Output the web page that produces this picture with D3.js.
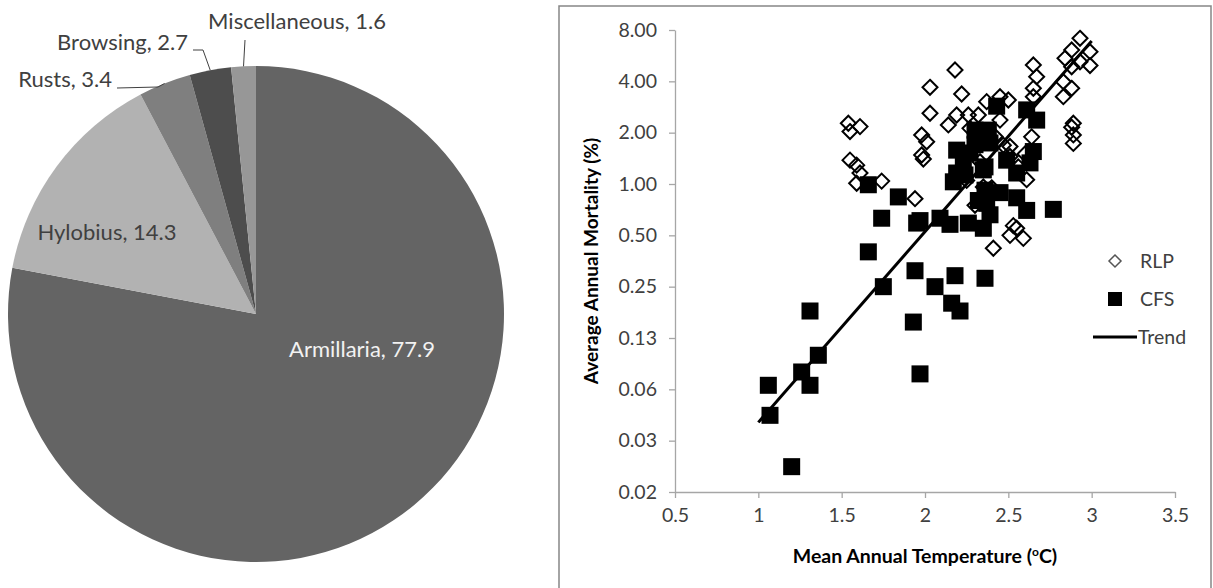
<!DOCTYPE html>
<html>
<head>
<meta charset="utf-8">
<script src="https://cdn.jsdelivr.net/npm/d3@7"></script>
<style>
  body { margin: 0; background: #fff; }
  svg text { font-family: Lato, 'Noto Sans', sans-serif; }
</style>
</head>
<body>
<div id="chart"></div>
<script>
// pie: causes of mortality (%)
const pieCategories = ['Armillaria', 'Hylobius', 'Rusts', 'Browsing', 'Miscellaneous']
const pieValues = [77.9, 14.3, 3.4, 2.7, 1.6]
const pieColors = ['#646464', '#b2b2b2', '#7f7f7f', '#4d4d4d', '#979797']

// scatter: mean annual temperature vs average annual mortality
const rlpTemp = [1.54, 1.61, 1.55, 1.55, 1.59, 1.61, 1.59, 1.74, 1.94, 1.98, 2.01, 1.98, 1.99, 2.03, 2.18, 2.03, 2.22, 2.14, 2.19, 2.26, 2.27, 2.32, 2.37, 2.45, 2.50, 2.65, 2.67, 2.65, 2.65, 2.64, 2.47, 2.51, 2.61, 2.35, 2.53, 2.51, 2.59, 2.41, 2.93, 2.99, 2.88, 2.84, 2.93, 2.99, 2.88, 2.83, 2.88, 2.83, 2.89, 2.88, 2.89, 2.89, 2.45, 2.51, 2.56, 2.25, 2.40, 2.30, 2.55, 2.33, 2.42, 2.60]
const rlpMort = [2.27, 2.17, 2.03, 1.38, 1.29, 1.16, 1.01, 1.04, 0.82, 1.94, 1.77, 1.48, 1.40, 2.60, 4.66, 3.69, 3.37, 2.22, 2.54, 2.54, 2.12, 2.54, 3.04, 3.25, 3.11, 4.99, 4.26, 3.64, 3.25, 1.89, 1.69, 1.45, 1.06, 0.96, 0.57, 0.50, 0.48, 0.42, 7.15, 5.97, 6.11, 5.46, 5.21, 4.95, 4.87, 3.98, 3.64, 3.25, 2.27, 2.15, 1.94, 1.73, 2.37, 1.66, 1.26, 1.05, 0.95, 0.75, 0.55, 1.35, 1.90, 1.50]
const cfsTemp = [1.31, 1.36, 1.26, 1.31, 1.06, 1.07, 1.20, 1.93, 1.97, 2.16, 2.21, 1.75, 2.06, 1.66, 1.84, 1.74, 1.97, 1.66, 1.94, 1.95, 2.09, 2.17, 2.24, 2.35, 2.15, 2.26, 2.35, 2.37, 2.45, 2.55, 2.61, 2.77, 2.18, 2.36, 2.55, 2.43, 2.61, 2.67, 2.38, 2.39, 2.19, 2.65, 2.63, 2.49, 2.36, 2.19, 2.27, 2.23, 2.36, 2.30, 2.30, 2.32, 2.39]
const cfsMort = [0.18, 0.099, 0.079, 0.066, 0.066, 0.044, 0.022, 0.155, 0.077, 0.20, 0.18, 0.25, 0.25, 0.99, 0.84, 0.63, 0.61, 0.40, 0.31, 0.59, 0.63, 1.03, 1.13, 1.21, 0.58, 0.59, 0.55, 0.77, 0.89, 0.83, 0.70, 0.71, 0.29, 0.28, 1.16, 2.86, 2.72, 2.37, 2.07, 1.74, 1.58, 1.55, 1.33, 1.38, 1.26, 1.16, 1.52, 1.29, 0.92, 2.07, 1.70, 0.80, 0.66]
const trendTemp = [1.0, 3.0]
const trendMort = [0.040, 6.9]

const xTicks = [0.5, 1, 1.5, 2, 2.5, 3, 3.5]
const yTicks = [8, 4, 2, 1, 0.5, 0.25, 0.125, 0.0625, 0.03125, 0.015625]
const legendItems = ['RLP', 'CFS', 'Trend']

const svg = d3.select('#chart')
  .append('svg')
  .attr('width', 1213)
  .attr('height', 588)

// ---------- pie ----------
const cx = 256, cy = 314, radius = 248
const pie = d3.pie().sort(null).value(d => d)
const arc = d3.arc().innerRadius(0).outerRadius(radius)
const arcs = pie(pieValues)

const pieG = svg.append('g').attr('transform', `translate(${cx}, ${cy})`)
pieG.selectAll('path')
  .data(arcs)
  .join('path')
  .attr('d', arc)
  .attr('fill', (d, i) => pieColors[i])

// label layout (label anchor, leader start), relative to page
const labelLayout = [
  { x: 362, y: 357, anchor: 'middle', fill: '#f2f2f2', lead: null },
  { x: 107, y: 240, anchor: 'middle', fill: '#404040', lead: null },
  { x: 112, y: 87, anchor: 'end', fill: '#404040', lead: [[117, 88], [158, 87]] },
  { x: 188, y: 50, anchor: 'end', fill: '#404040', lead: [[193, 50], [203, 50]] },
  { x: 297, y: 29, anchor: 'middle', fill: '#404040', lead: [[245, 40]] }
]

const edge = d3.arc().innerRadius(radius).outerRadius(radius)
arcs.forEach((d, i) => {
  const L = labelLayout[i]
  if (L.lead) {
    const c = edge.centroid(d)
    const pts = L.lead.concat([[cx + c[0], cy + c[1]]])
    svg.append('path')
      .attr('d', d3.line()(pts))
      .attr('fill', 'none')
      .attr('stroke', '#404040')
      .attr('stroke-width', 1)
  }
  svg.append('text')
    .attr('x', L.x)
    .attr('y', L.y)
    .attr('text-anchor', L.anchor)
    .attr('fill', L.fill)
    .style('font-size', '22px')
    .text(`${pieCategories[i]}, ${pieValues[i]}`)
})

// ---------- scatter ----------
svg.append('rect')
  .attr('x', 559)
  .attr('y', 6)
  .attr('width', 652)
  .attr('height', 600)
  .attr('fill', 'none')
  .attr('stroke', '#868686')
  .attr('stroke-width', 1.5)

const x = d3.scaleLinear().domain([0.5, 3.5]).range([675, 1175])
const y = d3.scaleLog().base(2).domain([0.015625, 8]).range([492, 30])

const yAxis = svg.append('g')
  .attr('transform', 'translate(675, 0)')
  .call(d3.axisLeft(y).tickValues(yTicks).tickFormat(d3.format('.2f')).tickSize(6).tickSizeOuter(0).tickPadding(12))
const xAxis = svg.append('g')
  .attr('transform', 'translate(0, 492)')
  .call(d3.axisBottom(x).tickValues(xTicks).tickFormat(d3.format('')).tickSize(6).tickSizeOuter(0).tickPadding(10))

;[xAxis, yAxis].forEach(a => {
  a.select('.domain').attr('stroke', '#a6a6a6').attr('stroke-width', 1.3)
  a.selectAll('.tick line').attr('stroke', '#a6a6a6').attr('stroke-width', 1.3)
  a.selectAll('.tick text')
    .attr('fill', '#404040')
    .style('font-size', '19.5px')
    .style('font-family', "Lato, 'Noto Sans', sans-serif")
})

svg.append('text')
  .attr('x', 925)
  .attr('y', 563)
  .attr('text-anchor', 'middle')
  .attr('fill', '#000')
  .style('font-size', '19.5px')
  .style('font-weight', 'bold')
  .html('Mean Annual Temperature (<tspan baseline-shift="super" font-size="12px">o</tspan>C)')

svg.append('text')
  .attr('transform', 'translate(598, 261) rotate(-90)')
  .attr('text-anchor', 'middle')
  .attr('fill', '#000')
  .style('font-size', '19px')
  .style('font-weight', 'bold')
  .text('Average Annual Mortality (%)')

const diamond = s => `M0,${-s}L${s},0L0,${s}L${-s},0Z`

// RLP diamonds
svg.append('g')
  .selectAll('path')
  .data(rlpTemp.map((t, i) => [t, rlpMort[i]]))
  .join('path')
  .attr('d', diamond(7.5))
  .attr('transform', d => `translate(${x(d[0])}, ${y(d[1])})`)
  .attr('fill', 'none')
  .attr('stroke', '#000')
  .attr('stroke-width', 2)

// CFS squares
svg.append('g')
  .selectAll('rect')
  .data(cfsTemp.map((t, i) => [t, cfsMort[i]]))
  .join('rect')
  .attr('x', d => x(d[0]) - 8.5)
  .attr('y', d => y(d[1]) - 8.5)
  .attr('width', 17)
  .attr('height', 17)
  .attr('fill', '#000')

// trend line
svg.append('path')
  .datum(trendTemp.map((t, i) => [t, trendMort[i]]))
  .attr('d', d3.line().x(d => x(d[0])).y(d => y(d[1])))
  .attr('fill', 'none')
  .attr('stroke', '#000')
  .attr('stroke-width', 3)

// legend
const legend = svg.append('g')
legendItems.forEach((name, i) => {
  const ly = 261 + i * 38
  if (name === 'RLP') {
    legend.append('path').attr('d', diamond(6)).attr('transform', `translate(1115, ${ly})`)
      .attr('fill', 'none').attr('stroke', '#555').attr('stroke-width', 1.5)
  } else if (name === 'CFS') {
    legend.append('rect').attr('x', 1108).attr('y', ly - 7).attr('width', 14).attr('height', 14).attr('fill', '#000')
  } else {
    legend.append('line').attr('x1', 1093).attr('x2', 1137).attr('y1', ly).attr('y2', ly)
      .attr('stroke', '#000').attr('stroke-width', 3)
  }
  legend.append('text')
    .attr('x', name === 'Trend' ? 1138 : 1140)
    .attr('y', ly + 7)
    .attr('fill', '#404040')
    .style('font-size', '19.5px')
    .text(name)
})
</script>
</body>
</html>
